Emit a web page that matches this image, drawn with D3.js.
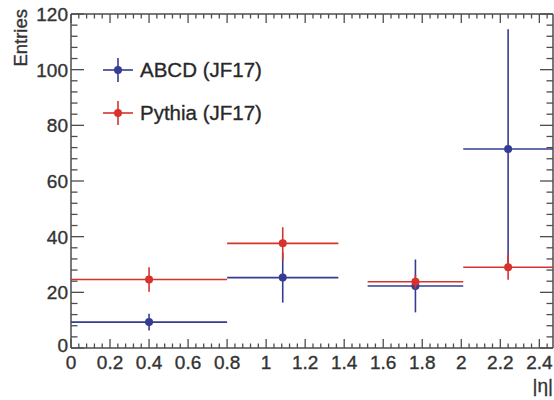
<!DOCTYPE html>
<html><head><meta charset="utf-8">
<script src="https://cdn.jsdelivr.net/npm/d3@7"></script>
<style>body{margin:0;background:#fff}svg{display:block}text{font-family:"Liberation Sans",Arial,sans-serif}</style>
</head><body>
<script>
const binLow  = [0, 0.8, 1.52, 2.01];
const binHigh = [0.8, 1.37, 2.01, 2.47];
const abcdVals = [9.3, 25.3, 22.3, 71.5];
const abcdErrs = [3.0, 9.0, 9.5, 43.0];
const pythiaVals = [24.6, 37.6, 23.8, 29.0];
const pythiaErrs = [4.4, 5.8, 2.5, 4.5];
const xTicks = [0, 0.2, 0.4, 0.6, 0.8, 1, 1.2, 1.4, 1.6, 1.8, 2, 2.2, 2.4];
const yTicks = [0, 20, 40, 60, 80, 100, 120];
const seriesNames = ["ABCD (JF17)", "Pythia (JF17)"];
const colors = ["#363c92", "#d8322f"];

const W = 554, H = 400;
const L = 71, R = 553, T = 14, B = 348;
const svg = d3.select("body").append("svg").attr("width", W).attr("height", H);
const x = d3.scaleLinear().domain([0, 2.47]).range([L, R]);
const y = d3.scaleLinear().domain([0, 120]).range([B, T]);
const axisCol = "#4d4d4d";

// frame
const g = svg.append("g").attr("stroke", axisCol).attr("stroke-width", 1.5).attr("fill", "none");
g.append("line").attr("x1", L).attr("x2", L).attr("y1", T).attr("y2", B);
g.append("line").attr("x1", R).attr("x2", R).attr("y1", T).attr("y2", B);
g.append("line").attr("x1", L).attr("x2", R).attr("y1", B).attr("y2", B);
g.append("line").attr("x1", L).attr("x2", R).attr("y1", T).attr("y2", T);

// x ticks (major 0.2, minor 0.04)
const xMinor = d3.range(0, 2.4701, 0.04);
xMinor.forEach(v => {
  const isMaj = Math.abs(v / 0.2 - Math.round(v / 0.2)) < 1e-6;
  const len = isMaj ? 9 : 4.5;
  g.append("line").attr("x1", x(v)).attr("x2", x(v)).attr("y1", B).attr("y2", B - len).attr("stroke-width", 1.3);
  g.append("line").attr("x1", x(v)).attr("x2", x(v)).attr("y1", T).attr("y2", T + len).attr("stroke-width", 1.3);
});
// y ticks (major 20, minor 4)
d3.range(0, 120.01, 4).forEach(v => {
  const isMaj = Math.abs(v % 20) < 1e-6;
  const len = isMaj ? 13 : 6.5;
  g.append("line").attr("y1", y(v)).attr("y2", y(v)).attr("x1", L).attr("x2", L + len).attr("stroke-width", 1.3);
  g.append("line").attr("y1", y(v)).attr("y2", y(v)).attr("x1", R).attr("x2", R - len).attr("stroke-width", 1.3);
});

// tick labels
const tc = "#333";
const txt = sel => sel.attr("fill", tc).attr("stroke", tc).attr("stroke-width", 0.35);
svg.append("g").selectAll("text").data(xTicks).join("text")
  .attr("x", d => x(d)).attr("y", 369).attr("text-anchor", "middle")
  .attr("font-size", 19).call(txt).text(d => d3.format("~g")(d));
svg.append("g").selectAll("text").data(yTicks).join("text")
  .attr("x", 68).attr("y", d => d === 0 ? y(d) + 4 : y(d) + 7).attr("text-anchor", "end")
  .attr("font-size", 19).call(txt).text(d => d);

// axis titles
svg.append("text").attr("transform", "translate(27,9) rotate(-90)").attr("text-anchor", "end")
  .attr("font-size", 18.5).call(txt).text("Entries");
svg.append("text").attr("x", 553).attr("y", 392).attr("text-anchor", "end")
  .attr("font-size", 19).call(txt).text("|η|");

// data
const series = [
  {vals: abcdVals, errs: abcdErrs, col: colors[0]},
  {vals: pythiaVals, errs: pythiaErrs, col: colors[1]}
];
series.forEach(s => {
  const sg = svg.append("g");
  s.vals.forEach((v, i) => {
    const c = (binLow[i] + binHigh[i]) / 2;
    sg.append("line").attr("x1", x(binLow[i])).attr("x2", x(binHigh[i])).attr("y1", y(v)).attr("y2", y(v))
      .attr("stroke", s.col).attr("stroke-width", 1.6);
    sg.append("line").attr("x1", x(c)).attr("x2", x(c)).attr("y1", y(v - s.errs[i])).attr("y2", y(v + s.errs[i]))
      .attr("stroke", s.col).attr("stroke-width", 1.6);
    sg.append("circle").attr("cx", x(c)).attr("cy", y(v)).attr("r", 4).attr("fill", s.col);
  });
});

// legend
seriesNames.forEach((name, i) => {
  const ly = 70 + i * 43, lx = 118;
  svg.append("line").attr("x1", lx - 15).attr("x2", lx + 15).attr("y1", ly).attr("y2", ly).attr("stroke", colors[i]).attr("stroke-width", 1.6);
  svg.append("line").attr("x1", lx).attr("x2", lx).attr("y1", ly - 12).attr("y2", ly + 12).attr("stroke", colors[i]).attr("stroke-width", 1.6);
  svg.append("circle").attr("cx", lx).attr("cy", ly).attr("r", 4).attr("fill", colors[i]);
  svg.append("text").attr("x", 140).attr("y", ly + 7).attr("font-size", 20.5).call(txt).attr("fill", "#262626").text(name);
});
</script>
</body></html>
